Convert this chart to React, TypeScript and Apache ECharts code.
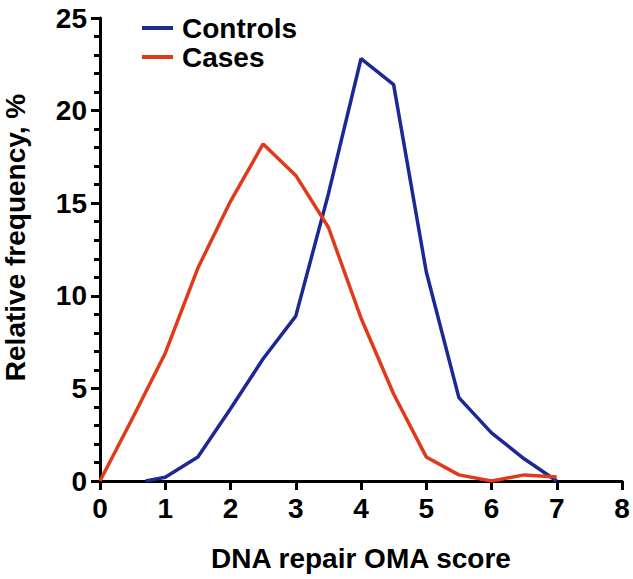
import React, { useEffect, useRef } from "react";
import * as echarts from "echarts";

const controlsX = [0.7, 1, 1.5, 2, 2.5, 3, 3.5, 4, 4.5, 5, 5.5, 6, 6.5, 7];
const controlsY = [0, 0.2, 1.3, 3.9, 6.6, 8.9, 15.5, 22.8, 21.4, 11.3, 4.5, 2.6, 1.2, 0];
const casesX = [0, 0.5, 1, 1.5, 2, 2.5, 3, 3.5, 4, 4.5, 5, 5.5, 6, 6.5, 7];
const casesY = [0, 3.4, 6.9, 11.5, 15.1, 18.2, 16.5, 13.7, 8.8, 4.7, 1.3, 0.33, 0, 0.33, 0.22];
const seriesNames = ["Controls", "Cases"];
const seriesColors = ["#1c2896", "#e03a1a"];

const FONT = "'Liberation Sans', Arial, Helvetica, sans-serif";

export default function App() {
  const ref = useRef<HTMLDivElement>(null);
  useEffect(() => {
    if (!ref.current) return;
    const chart = echarts.init(ref.current, undefined, { renderer: "svg" });
    const zip = (xs: number[], ys: number[]) => xs.map((x, i) => [x, ys[i]]);
    const axisLine = { show: true, lineStyle: { color: "#000", width: 3 } };
    const txt = { fontFamily: FONT, fontWeight: "bold", fontSize: 28, color: "#000" };
    chart.setOption({
      animation: false,
      backgroundColor: "#fff",
      grid: {
        left: 100,
        right: 11,
        top: 18,
        bottom: 98,
        containLabel: false,
        outerBoundsMode: "none",
      },
      legend: {
        orient: "vertical",
        left: 137,
        top: 9,
        itemGap: 1,
        itemWidth: 31,
        itemHeight: 4,
        icon: "rect",
        data: seriesNames,
        textStyle: { ...txt, padding: [0, 0, 0, 4] },
      },
      xAxis: {
        type: "value",
        min: 0,
        max: 8,
        interval: 1,
        name: "DNA repair OMA score",
        nameLocation: "middle",
        nameGap: 63,
        nameTextStyle: txt,
        axisLine,
        axisTick: { show: true, length: 9, lineStyle: { color: "#000", width: 3 } },
        axisLabel: { ...txt, margin: 13 },
        splitLine: { show: false },
      },
      yAxis: {
        type: "value",
        min: 0,
        max: 25,
        interval: 5,
        name: "Relative frequency, %",
        nameLocation: "middle",
        nameGap: 71,
        nameTextStyle: { ...txt, padding: [0, 0, 0, 24] },
        axisLine,
        axisTick: { show: true, length: 9, lineStyle: { color: "#000", width: 3 } },
        minorTick: { show: true, splitNumber: 5, length: 6, lineStyle: { color: "#000", width: 3 } },
        axisLabel: { ...txt, margin: 13 },
        splitLine: { show: false },
      },
      series: [
        {
          name: seriesNames[0],
          type: "line",
          data: zip(controlsX, controlsY),
          showSymbol: false,
          symbol: "none",
          color: seriesColors[0],
          lineStyle: { color: seriesColors[0], width: 3.5 },
        },
        {
          name: seriesNames[1],
          type: "line",
          data: zip(casesX, casesY),
          showSymbol: false,
          symbol: "none",
          color: seriesColors[1],
          lineStyle: { color: seriesColors[1], width: 3.5 },
        },
      ],
    });
    return () => chart.dispose();
  }, []);
  return (
    <div
      ref={ref}
      style={{ position: "absolute", left: 0, top: 0, width: 633, height: 579 }}
    />
  );
}
